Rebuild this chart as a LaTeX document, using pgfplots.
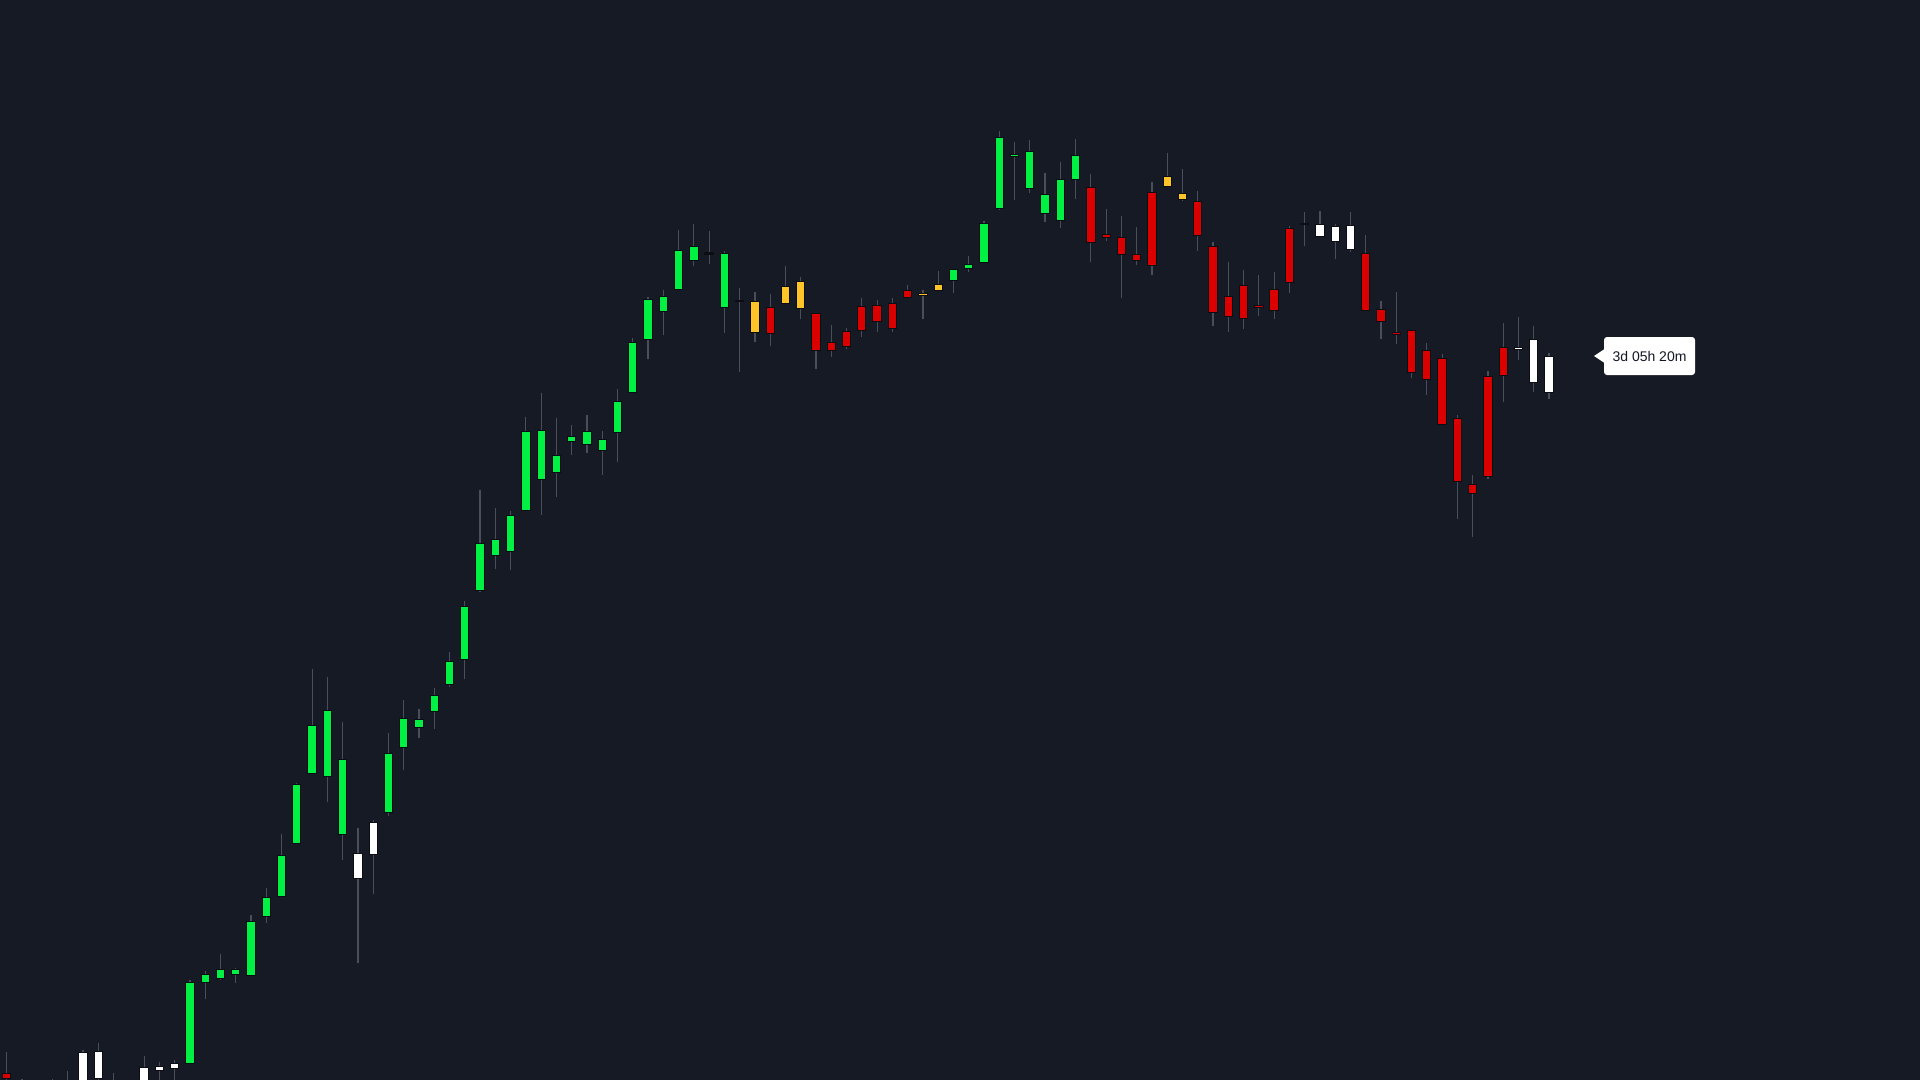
\documentclass[border=0pt]{standalone}
\usepackage{pgfplots}
\usepackage{pgfplotstable}
\pgfplotsset{compat=1.18}
\usepackage{fontspec}
\setmainfont{Liberation Sans}
\definecolor{bg}{HTML}{161A25}
\definecolor{wick}{HTML}{4A4E5A}
\definecolor{edge}{HTML}{0B0D12}
\definecolor{cgreen}{HTML}{00F044}
\definecolor{cred}{HTML}{DB0000}
\definecolor{corange}{HTML}{FFC427}
\definecolor{cwhite}{HTML}{FFFFFF}
\definecolor{tiptext}{HTML}{131722}

% columns: i = candle index, t = body top, b = body bottom, h = high, l = low (screen units, downward)
\pgfplotstableread{
i t b h l
12 982.3 1063.5 980 1064
13 974.3 983.3 970.7 998.7
14 968.7 979 954 980
15 968.7 975.3 968.3 982.7
16 921.3 975.7 915.3 975.7
17 896.5 916.8 888 922.7
18 854.6 897.3 833.5 897.3
19 784.4 844.2 782.6 844.2
20 724.7 774.3 668.5 774.3
21 709.9 776.5 676.6 802.1
22 758.5 835.4 721.7 859.5
25 753.1 812.5 733.2 816.3
26 717.9 748.2 700 770.4
27 719 727.9 709.1 737.8
28 695.3 712.2 687.7 729.4
29 660.5 685 651.7 687.3
30 605.8 660.1 601.2 678.5
31 542.6 590.5 489.8 591.6
32 539.2 556 508.2 568.7
33 515.1 552.2 511.3 570.2
34 430.6 510.6 416.5 510.6
35 429.8 480.2 392.6 514.5
36 454.6 473.2 417.6 496.7
37 436.3 441.6 425.2 455
38 430.7 445 415 453.3
39 438.7 450.7 431 475
40 401 432.7 389 461.7
41 342.3 393 338.3 393
42 299.3 340 297 358.7
43 296 311.7 290 334.7
44 250 290 230 290
45 246.3 260.7 224 265.7
47 252.7 308.3 251 332.7
62 268.7 281 268.7 293.3
63 264.3 268.7 256 271.7
64 222.7 263 220.7 263
65 136.7 209 131.3 210
66 154.3 157.3 141.7 200
67 151.3 189.3 140.3 193.3
68 194 214.3 173.3 221.7
69 178.7 221 162 228.3
70 154.7 180.3 139.3 199.3
}\greendata

\pgfplotstableread{
i t b h l
0 1073.3 1078.7 1051.7 1082
50 307.3 334.3 294.3 346
53 313 351.3 313 368.7
54 342.3 351.3 324.7 356.7
55 331 346.7 328.3 349.3
56 306 331 297.7 336.7
57 305 322 300 331.7
58 302.7 328.7 297.7 331.7
59 290.3 298 285.3 298
71 187.3 242.7 174.3 261.7
72 233.7 238.3 209.3 241
73 237.3 255.3 216.3 297.7
74 254 261 227.3 264.7
75 191.7 266.3 182.3 274.7
78 200.7 236 191 251
79 246.3 312.7 242.3 325.7
80 296 317.3 261.7 331.7
81 284.7 318.7 270.3 329.3
82 305 308.3 275 315.7
83 289.3 310.7 271.7 319
84 228.3 283.3 226 292.7
89 253 310.7 235.3 310.7
90 309.3 322 301 338.7
91 331.5 334.5 292 344
92 329.7 372.7 329.7 378
93 350.3 379.7 343 394.7
94 358.3 425 354 425
95 418 482.3 415.3 519.3
96 484.3 494 475 537.3
97 376.3 476.7 371.3 479.3
98 346.7 376.3 322.7 401.7
}\reddata

\pgfplotstableread{
i t b h l
49 300.7 333.3 292 341.7
51 286 303.7 266 303.7
52 281 309.3 277.3 318.7
60 292.7 296 290 319
61 283.7 291.3 271.3 291.3
76 176 187.3 153 187.3
77 193 200 169 201
}\orangedata

\pgfplotstableread{
i t b h l
5 1052.3 1095 1049.7 1100
6 1051.3 1079.3 1042.7 1090
9 1067 1095 1056 1100
10 1065.7 1070.7 1062 1090
11 1063.3 1069.3 1060 1090
23 852.6 879.4 828.2 962.5
24 822 854.5 820 893.6
86 223.7 237.3 210.7 237.3
87 225.7 241.7 224 259
88 224.7 249.7 211.7 252.3
99 346.7 350.3 317 360
100 339 383 326 391.7
101 355.7 393.3 353.3 399.3
}\whitedata

\pgfplotstableread{
i t b h l
46 252.3 254.5 231 263.7
48 299.8 302 288.3 372.3
85 222.8 225 211.7 245.7
}\dojidata

\pgfplotstableread{
i t b h l
1 1090 1100 1079 1110
3 1090 1100 1079 1110
4 1090 1100 1070.7 1110
7 1090 1100 1072.7 1110
}\hiddendata

\newcommand{\wicks}[1]{%
  \addplot[draw=wick, line width=0.6pt, quiver={u=0, v=\thisrow{l}-\thisrow{h}}]
    table[x expr=6.7+15.27*\thisrow{i}, y=h] {#1};}
\newcommand{\edges}[1]{%
  \addplot[draw=edge, line width=4.65pt, line cap=butt, quiver={u=0, v=\thisrow{b}-\thisrow{t}}]
    table[x expr=6.7+15.27*\thisrow{i}, y=t] {#1};}
\newcommand{\fills}[2]{%
  \addplot[draw=#2, line width=3.65pt, line cap=butt, quiver={u=0, v=\thisrow{b}-\thisrow{t}-2}]
    table[x expr=6.7+15.27*\thisrow{i}, y expr=\thisrow{t}+1] {#1};}

\begin{document}
\begin{tikzpicture}
\begin{axis}[
  scale only axis, width=960pt, height=540pt,
  xmin=0, xmax=1920, ymin=0, ymax=1080, y dir=reverse,
  axis background/.style={fill=bg},
  axis line style={draw=none},
  xtick=\empty, ytick=\empty,
  clip=true,
]
\wicks{\hiddendata}
\wicks{\greendata}
\wicks{\reddata}
\wicks{\orangedata}
\wicks{\whitedata}
\wicks{\dojidata}
\edges{\greendata}
\edges{\reddata}
\edges{\orangedata}
\edges{\whitedata}
\edges{\dojidata}
\fills{\greendata}{cgreen}
\fills{\reddata}{cred}
\fills{\orangedata}{corange}
\fills{\whitedata}{cwhite}
% countdown tooltip
\fill[white, rounded corners=1.5pt] (axis cs:1604,337) rectangle (axis cs:1695,375);
\fill[white] (axis cs:1594,356) -- (axis cs:1606,348) -- (axis cs:1606,364) -- cycle;
\node[font=\fontsize{7}{8}\selectfont, text=tiptext, inner sep=0pt] at (axis cs:1649.5,356) {3d 05h 20m};
\end{axis}
\end{tikzpicture}
\end{document}
